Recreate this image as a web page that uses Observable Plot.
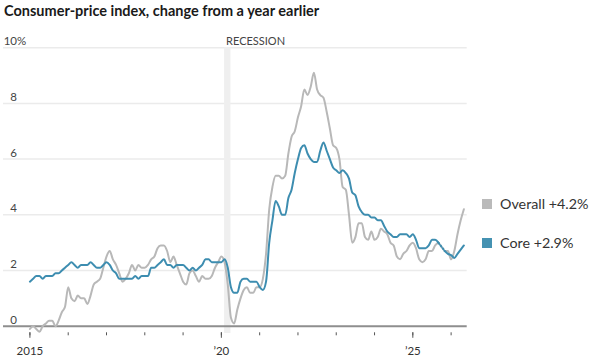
<!DOCTYPE html>
<html>
<head>
<meta charset="utf-8">
<script src="https://cdn.jsdelivr.net/npm/d3@7"></script>
<script src="https://cdn.jsdelivr.net/npm/@observablehq/plot@0.6"></script>
<style>
  html, body { margin: 0; padding: 0; background: #fff; }
  #wrap { position: relative; width: 595px; height: 361px; overflow: hidden; font-family: Lato, sans-serif; }
  #title { position: absolute; left: 4px; top: 2px; font-size: 14.5px; font-weight: 700; color: #1a1a1a; white-space: nowrap; }
  #chart { position: absolute; left: 0; top: 0; }
  .leg { position: absolute; left: 482px; display: flex; align-items: center; font-size: 14.3px; color: #333; white-space: nowrap; }
  .sw { width: 10px; height: 10px; margin-right: 8px; }
</style>
</head>
<body>
<div id="wrap">
  <div id="chart"></div>
  <div id="title">Consumer-price index, change from a year earlier</div>
  <div class="leg" style="top:195px"><div class="sw" style="background:#bababa"></div><span>Overall +4.2%</span></div>
  <div class="leg" style="top:234px"><div class="sw" style="background:#4592b2"></div><span>Core +2.9%</span></div>
</div>
<script>
// Monthly year-over-year change, %, Jan 2015 – May 2026 (Oct 2025 not published)
const startYear = 2015;
const overall = [
  -0.1, 0.0, -0.1, -0.2, 0.0, 0.1, 0.2, 0.2, 0.0, 0.2, 0.5, 0.7,
  1.4, 1.0, 0.9, 1.1, 1.0, 1.0, 0.8, 1.1, 1.5, 1.6, 1.7, 2.1,
  2.5, 2.7, 2.4, 2.2, 1.9, 1.6, 1.7, 1.9, 2.2, 2.0, 2.2, 2.1,
  2.1, 2.2, 2.4, 2.5, 2.8, 2.9, 2.9, 2.7, 2.3, 2.5, 2.2, 1.9,
  1.6, 1.5, 1.9, 2.0, 1.8, 1.6, 1.8, 1.7, 1.7, 1.8, 2.1, 2.3,
  2.5, 2.3, 1.5, 0.3, 0.1, 0.6, 1.0, 1.3, 1.4, 1.2, 1.2, 1.4,
  1.4, 1.7, 2.6, 4.2, 5.0, 5.4, 5.4, 5.3, 5.4, 6.2, 6.8, 7.0,
  7.5, 7.9, 8.5, 8.3, 8.6, 9.1, 8.5, 8.3, 8.2, 7.7, 7.1, 6.5,
  6.4, 6.0, 5.0, 4.9, 4.0, 3.0, 3.2, 3.7, 3.7, 3.2, 3.1, 3.4,
  3.1, 3.2, 3.5, 3.4, 3.3, 3.0, 2.9, 2.5, 2.4, 2.6, 2.7, 2.9,
  3.0, 2.8, 2.4, 2.3, 2.4, 2.7, 2.7, 2.9, 3.0, null, 2.7, 2.7,
  2.4, 2.7, 3.3, 3.8, 4.2
];
const core = [
  1.6, 1.7, 1.8, 1.8, 1.7, 1.8, 1.8, 1.8, 1.9, 1.9, 2.0, 2.1,
  2.2, 2.3, 2.2, 2.1, 2.2, 2.2, 2.2, 2.3, 2.2, 2.1, 2.1, 2.2,
  2.3, 2.2, 2.0, 1.9, 1.7, 1.7, 1.7, 1.7, 1.7, 1.8, 1.7, 1.8,
  1.8, 1.8, 2.1, 2.1, 2.2, 2.3, 2.4, 2.2, 2.2, 2.1, 2.2, 2.2,
  2.2, 2.1, 2.0, 2.1, 2.0, 2.1, 2.2, 2.4, 2.4, 2.3, 2.3, 2.3,
  2.3, 2.4, 2.1, 1.4, 1.2, 1.2, 1.6, 1.7, 1.7, 1.6, 1.6, 1.6,
  1.4, 1.3, 1.6, 3.0, 3.8, 4.5, 4.3, 4.0, 4.0, 4.6, 4.9, 5.5,
  6.0, 6.4, 6.5, 6.2, 6.0, 5.9, 5.9, 6.3, 6.6, 6.3, 6.0, 5.7,
  5.6, 5.5, 5.6, 5.5, 5.3, 4.8, 4.7, 4.3, 4.1, 4.0, 4.0, 3.9,
  3.9, 3.8, 3.8, 3.6, 3.4, 3.3, 3.2, 3.2, 3.3, 3.3, 3.3, 3.2,
  3.3, 3.1, 2.8, 2.8, 2.8, 2.9, 3.1, 3.1, 3.0, null, 2.7, 2.6,
  2.55, 2.45, 2.6, 2.75, 2.9
];
const yTicks = [0, 2, 4, 6, 8, 10];
const yearTicks = d3.range(2015, 2027);
const labelYears = [2015, 2020, 2025];
const labelText = ["2015", "\u201920", "\u201925"];
const recessionStart = 2020 + 1 / 12;
const recessionEnd = 2020 + 3 / 12;

const toRows = (arr, name) => arr.map((v, i) => ({t: startYear + i / 12, v, name}));
const overallRows = toRows(overall, "Overall");
const coreRows = toRows(core, "Core");
// bridge across the missing month
const gapOf = rows => {
  const i = rows.findIndex(d => d.v == null);
  return [rows[i - 1], rows[i + 1]];
};

const chart = Plot.plot({
  width: 595,
  height: 361,
  marginTop: 47.2,
  marginBottom: 35.3,
  marginLeft: 3,
  marginRight: 128.3,
  x: {domain: [2014.31, 2026.42], axis: null},
  y: {domain: [0, 10], axis: null},
  style: {fontFamily: "Lato, sans-serif", background: "transparent"},
  marks: [
    Plot.ruleY(yTicks.filter(d => d > 0), {stroke: "#ebebeb", strokeWidth: 1.5}),
    Plot.rect([{a: recessionStart, b: recessionEnd}], {x1: "a", x2: "b", y1: -0.26, y2: 10, fill: "#efefef"}),
    Plot.text(["RECESSION"], {x: recessionStart, y: 10, text: d => d, textAnchor: "start", lineAnchor: "bottom", dx: 1.5, dy: -3, fontSize: 11, fill: "#444"}),
    Plot.ruleY([0], {stroke: "#8e8e8e", strokeWidth: 2}),
    Plot.text(yTicks, {y: d => d, frameAnchor: "left", text: d => String(d), textAnchor: "end", lineAnchor: "bottom", dx: 13.5, dy: -2.5, fontSize: 11.5, fill: "#444"}),
    Plot.text([10], {y: d => d, frameAnchor: "left", text: () => "%", textAnchor: "start", lineAnchor: "bottom", dx: 13.5, dy: -2.5, fontSize: 11.5, fill: "#444"}),
    Plot.axisX(yearTicks, {tickSize: 3, tickFormat: () => "", dy: 6.6, stroke: "#555", strokeWidth: 1}),
    Plot.axisX(labelYears, {tickSize: 5.5, tickFormat: () => "", dy: 6.6, stroke: "#555", strokeWidth: 1}),
    Plot.text(labelYears, {x: d => d, frameAnchor: "bottom", text: (d, i) => labelText[i], dy: 25, lineAnchor: "middle", fontSize: 11.5, fill: "#333"}),
    Plot.line(overallRows, {x: "t", y: "v", stroke: "#b8b8b8", strokeWidth: 2, curve: "monotone-x"}),
    Plot.line(gapOf(overallRows), {x: "t", y: "v", stroke: "#b8b8b8", strokeWidth: 2, strokeDasharray: "1.5,2"}),
    Plot.line(coreRows, {x: "t", y: "v", stroke: "#3d8db0", strokeWidth: 2, curve: "monotone-x"}),
    Plot.line(gapOf(coreRows), {x: "t", y: "v", stroke: "#3d8db0", strokeWidth: 2, strokeDasharray: "1.5,2"})
  ]
});
document.getElementById("chart").appendChild(chart);
</script>
</body>
</html>
